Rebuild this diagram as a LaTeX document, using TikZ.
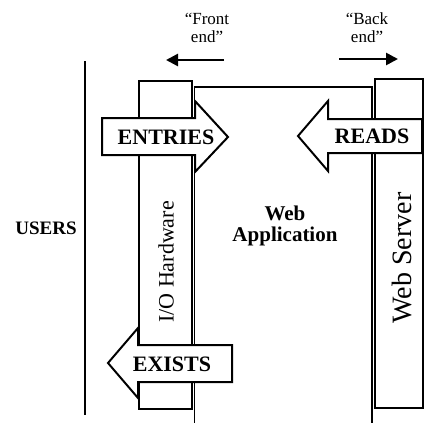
\documentclass[tikz,border=0pt]{standalone}
\usepackage{fontspec}
\setmainfont{Liberation Serif}
\usetikzlibrary{arrows.meta}
\begin{document}
\begin{tikzpicture}[x=1pt,y=-1pt,
  thinline/.style={line width=1.1pt},
  blockarrow/.style={draw,fill=white,line width=2pt,line join=miter},
  bigtxt/.style={font=\bfseries\fontsize{22}{24}\selectfont,inner sep=0pt},
  endtxt/.style={font=\fontsize{17}{18}\selectfont,align=center,inner sep=0pt},
  dirarrow/.style={line width=2.6pt,-{Triangle[length=12pt,width=12pt]}}
]
\useasboundingbox (0,0) rectangle (424,423);
% users line
\coordinate (u1) at (85,61);
\coordinate (u2) at (85,415);
\draw[thinline] (u1) -- (u2);
\node[font=\bfseries\fontsize{19}{21}\selectfont,inner sep=0pt] (users) at (46,228) {USERS};
% I/O hardware box
\draw[thinline] (139,81) rectangle (192,409);
\node[rotate=90,font=\fontsize{22}{24}\selectfont,inner sep=0pt] (io) at (166,262) {I/O Hardware};
% web application lines
\coordinate (w1) at (194.5,423);
\coordinate (w2) at (194.5,87);
\coordinate (w3) at (372,87);
\coordinate (w4) at (372,423);
\draw[thinline] (w1) -- (w2) -- (w3) -- (w4);
\node[font=\bfseries\fontsize{21}{21}\selectfont,align=center,inner sep=0pt] (app) at (285,226) {Web\\Application};
% web server box
\draw[thinline] (375,79) rectangle (423,408);
\node[rotate=90,font=\fontsize{28}{30}\selectfont,inner sep=0pt] (ws) at (402,258) {Web Server};
% front / back end
\node[endtxt] (fe) at (207,28) {``Front\\end''};
\node[endtxt] (be) at (367,28) {``Back\\end''};
\coordinate (fa1) at (224,60);
\coordinate (fa2) at (166,60);
\coordinate (ba1) at (339,59);
\coordinate (ba2) at (398,59);
\draw[dirarrow] (fa1) -- (fa2);
\draw[dirarrow] (ba1) -- (ba2);
% block arrows
\draw[blockarrow] (102,118) -- (195,118) -- (195,101) -- (228,137) -- (195,172) -- (195,155) -- (102,155) -- cycle;
\node[bigtxt] (entries) at (166,137) {ENTRIES};
\draw[blockarrow] (298,136) -- (328,101) -- (328,119) -- (422,119) -- (422,153) -- (328,153) -- (328,171) -- cycle;
\node[bigtxt] (reads) at (372,136) {READS};
\draw[blockarrow] (108,363) -- (138,328) -- (138,345) -- (232,345) -- (232,382) -- (138,382) -- (138,398) -- cycle;
\node[bigtxt] (exists) at (172,364) {EXISTS};
\end{tikzpicture}
\end{document}
